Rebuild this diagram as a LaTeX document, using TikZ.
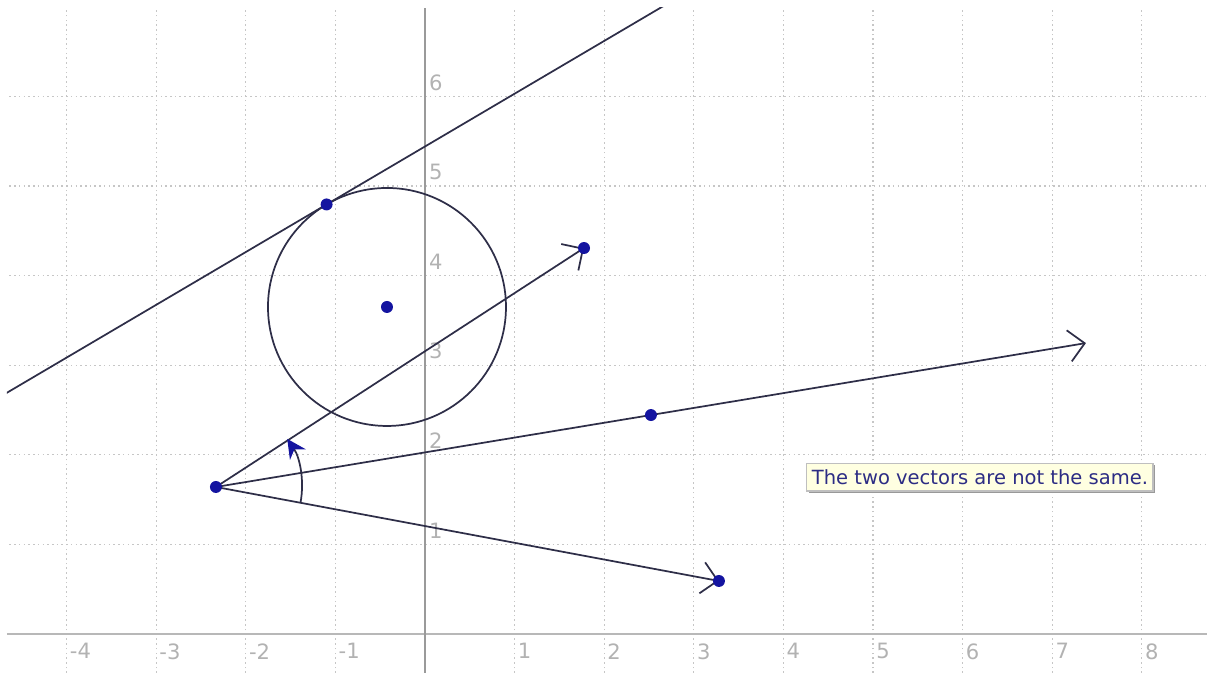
\documentclass[tikz,border=0pt]{standalone}
\usepackage{fontspec}
\setmainfont{DejaVu Sans}
\usepackage{tikz}
\usetikzlibrary{arrows.meta,calc,shadows}
\definecolor{ink}{HTML}{2E2E48}
\definecolor{pt}{HTML}{1414A0}
\definecolor{axc}{HTML}{9A9A9A}
\definecolor{notebg}{HTML}{FFFFE1}
\definecolor{notetxt}{HTML}{2C2C84}
\tikzset{
  gridl/.style={gray!45,line width=0.4pt,dash pattern=on 0.5pt off 1pt},
  ax/.style={axc,line width=0.5pt},
  curve/.style={ink,line width=0.55pt},
  vec/.style={curve,-{Straight Barb[length=5pt,width=10pt]}},
  dot/.style={circle,fill=pt,inner sep=0pt,minimum size=3.8pt},
  lab/.style={text=gray!60,inner sep=0pt,font=\fontsize{6.7}{7}\selectfont},
  msg/.style={draw=gray!50,fill=notebg,text=notetxt,inner xsep=1.6pt,inner ysep=2pt,
    font=\fontsize{6.2}{7.5}\selectfont,
    drop shadow={shadow xshift=0.6pt,shadow yshift=-0.6pt,fill=gray!80,opacity=1}},
}
\newcommand{\xl}[2]{\node[lab,anchor=north west] (x#1) at ({#2+0.03},-0.1) {#2};}
\newcommand{\yl}[1]{\node[lab,anchor=south west] (y#1) at (0.04,{#1+0.06}) {#1};}

\begin{document}
\begin{tikzpicture}
\useasboundingbox (-4.743,-0.435) rectangle (8.728,7.076);
\begin{scope}
\clip (-4.665,-0.435) rectangle (8.728,6.987);
% grid and axes
\draw[gridl] (-4.743,-0.435) grid (8.728,7.076);
\draw[ax,line width=0.8pt,axc!70] (-4.665,0) -- (8.728,0);
\draw[ax] (0,-0.435) -- (0,6.987);
\xl{m4}{-4}
\xl{m3}{-3}
\xl{m2}{-2}
\xl{m1}{-1}
\xl{1}{1}
\xl{2}{2}
\xl{3}{3}
\xl{4}{4}
\xl{5}{5}
\xl{6}{6}
\xl{7}{7}
\xl{8}{8}
\yl{1}
\yl{2}
\yl{3}
\yl{4}
\yl{5}
\yl{6}
% circle and its tangent
\coordinate (ctr) at (-0.424,3.650);
\coordinate (tang) at ($(ctr)+(120.5:1.328)$);
\draw[curve] (ctr) circle (1.328);
\draw[curve] ($(tang)+(210.5:4.5)$) -- ($(tang)+(30.5:4.9)$);
% vectors
\coordinate (pa) at (-2.333,1.641);
\coordinate (pb) at (1.775,4.308);
\coordinate (pd) at (2.522,2.444);
\coordinate (pe) at (3.281,0.592);
\coordinate (tip) at ($(pa)!2!(pd)$);
\draw[vec] (pa) -- (pb);
\draw[vec] (pa) -- (tip);
\draw[vec] (pa) -- (pe);
\draw[curve,-{Stealth[length=6pt,width=6pt,color=pt]}]
  ($(pa)+(-10.6:0.96)$) arc[start angle=-10.6,end angle=34,radius=0.96];
\node[dot] (dA) at (pa) {};
\node[dot] (dB) at (pb) {};
\node[dot] (dD) at (pd) {};
\node[dot] (dE) at (pe) {};
\node[dot] (dC) at (ctr) {};
\node[dot] (dT) at (tang) {};
\end{scope}
\node[msg] (note) at (6.194,1.752) {The two vectors are not the same.};
\end{tikzpicture}
\end{document}
